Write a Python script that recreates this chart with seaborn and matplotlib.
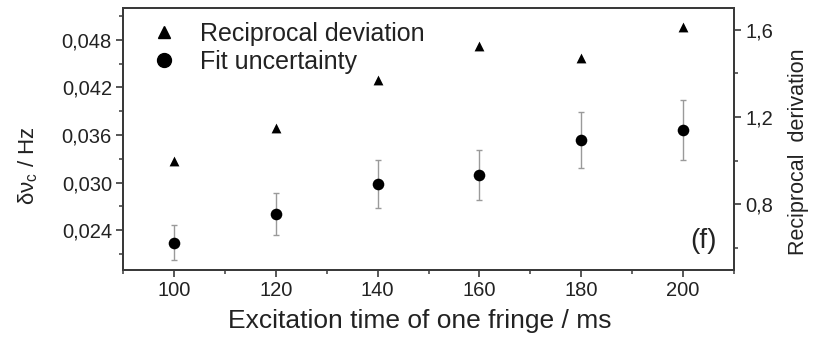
import matplotlib
matplotlib.use("Agg")
import matplotlib.pyplot as plt
import seaborn as sns
import numpy as np
import pandas as pd
from matplotlib.ticker import MultipleLocator, FuncFormatter
from matplotlib.lines import Line2D

# Data
times = [100, 120, 140, 160, 180, 200]
fit_uncertainty = [0.02245, 0.02606, 0.02984, 0.03097, 0.03533, 0.03663]
fit_error = [0.00225, 0.00262, 0.00302, 0.00312, 0.00354, 0.00373]
reciprocal_deviation = [1.00, 1.15, 1.37, 1.527, 1.47, 1.614]

x_label = "Excitation time of one fringe / ms"
y_left_label = "δν$_{\\rm c}$ / Hz"
y_right_label = "Reciprocal  derivation"
legend_labels = ["Reciprocal deviation", "Fit uncertainty"]
panel_tag = "(f)"

sns.set_style("ticks")
plt.rcParams['font.family'] = ['Liberation Sans', 'DejaVu Sans']
plt.rcParams['mathtext.fontset'] = 'custom'
plt.rcParams['mathtext.rm'] = 'Liberation Sans'
plt.rcParams['mathtext.it'] = 'Liberation Sans'

txt = '#222222'
df_fit = pd.DataFrame({"t": times, "v": fit_uncertainty, "e": fit_error})
df_rec = pd.DataFrame({"t": times, "r": reciprocal_deviation})

fig = plt.figure(figsize=(8.14, 3.41), dpi=100)
ax = fig.add_axes([123/814, 1 - 270/341, (734-123)/814, (270-8)/341])
ax2 = ax.twinx()

ax.errorbar(df_fit["t"], df_fit["v"], yerr=df_fit["e"], fmt='none',
            ecolor='#9a9a9a', elinewidth=1.0, capsize=2.5, capthick=1.0, zorder=2)
sns.scatterplot(data=df_fit, x="t", y="v", ax=ax, marker='o', color='black',
                s=70, edgecolor='black', linewidth=0, zorder=3, legend=False)
sns.scatterplot(data=df_rec, x="t", y="r", ax=ax2, marker='^', color='black',
                s=50, edgecolor='black', linewidth=0, zorder=3, legend=False)

ax.set_xlim(90, 210)
ax.set_ylim(0.019, 0.052)
ax2.set_ylim(0.5, 1.7)

ax.xaxis.set_major_locator(MultipleLocator(20))
ax.xaxis.set_minor_locator(MultipleLocator(10))
ax.yaxis.set_major_locator(MultipleLocator(0.006))
ax.yaxis.set_minor_locator(MultipleLocator(0.003))
ax2.yaxis.set_major_locator(MultipleLocator(0.4))
ax2.yaxis.set_minor_locator(MultipleLocator(0.2))

ax.yaxis.set_major_formatter(FuncFormatter(lambda v, p: f"{v:.3f}".replace('.', ',')))
ax2.yaxis.set_major_formatter(FuncFormatter(lambda v, p: f"{v:.1f}".replace('.', ',')))

for a in (ax, ax2):
    for s in a.spines.values():
        s.set_color('#3a3a3a')
        s.set_linewidth(1.4)
    a.tick_params(which='major', length=5, width=1.2, color='#3a3a3a', labelsize=14.5,
                  labelcolor=txt, pad=3)
    a.tick_params(which='minor', length=3, width=1.1, color='#3a3a3a')
ax.tick_params(axis='y', which='both', right=False)
ax.tick_params(axis='x', which='both', top=False)

ax.set_xlabel(x_label, fontsize=19, color=txt)
ax.xaxis.set_label_coords(0.486, -0.148)
ax.set_ylabel(y_left_label, fontsize=16, color=txt)
ax.yaxis.set_label_coords(-0.136, 0.40)
ax2.set_ylabel(y_right_label, fontsize=15.5, color=txt)
ax2.yaxis.set_label_coords(1.088, 0.45)

handles = [Line2D([], [], marker='^', color='black', linestyle='none', markersize=9),
           Line2D([], [], marker='o', color='black', linestyle='none', markersize=10)]
leg = ax.legend(handles, legend_labels, loc='upper left',
                bbox_to_anchor=(28/611, 1 - 14/262),
                frameon=False, fontsize=18, handletextpad=0.95, labelspacing=0.15,
                borderaxespad=0.0, borderpad=0.0, handlelength=1.0)
for t in leg.get_texts():
    t.set_color(txt)

ax.text(0.972, 0.06, panel_tag, transform=ax.transAxes, ha='right', va='bottom',
        fontsize=20, color=txt)

fig.savefig("out.png", dpi=100)
